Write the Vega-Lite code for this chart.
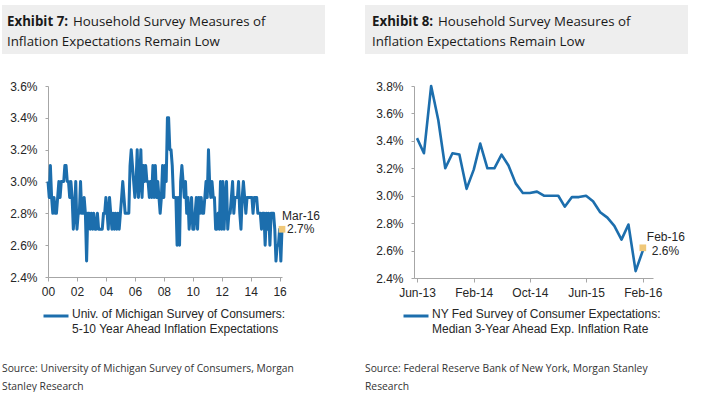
{
  "$schema": "https://vega.github.io/schema/vega-lite/v6.json",
  "background": "white",
  "padding": {"left": 2, "top": 5, "right": 0, "bottom": 0},
  "config": {
    "view": {"stroke": null},
    "axis": {"labelFont": "Liberation Sans", "labelFontSize": 12, "labelColor": "#262626", "domainColor": "#a6a6a6", "tickColor": "#a6a6a6", "grid": false, "labelOverlap": false},
    "text": {"font": "Liberation Sans", "fontSize": 12, "color": "#262626"}
  },
  "datasets": {
    "mich": [
      {"d":"2000/01/01","v":3.0},{"d":"2000/02/01","v":2.9},{"d":"2000/03/01","v":3.1},{"d":"2000/04/01","v":2.9},{"d":"2000/05/01","v":2.8},{"d":"2000/06/01","v":2.9},{"d":"2000/07/01","v":2.8},{"d":"2000/08/01","v":2.8},{"d":"2000/09/01","v":2.9},{"d":"2000/10/01","v":3.0},{"d":"2000/11/01","v":2.9},{"d":"2000/12/01","v":3.0},
      {"d":"2001/01/01","v":3.0},{"d":"2001/02/01","v":3.0},{"d":"2001/03/01","v":3.1},{"d":"2001/04/01","v":3.1},{"d":"2001/05/01","v":3.0},{"d":"2001/06/01","v":3.0},{"d":"2001/07/01","v":2.9},{"d":"2001/08/01","v":3.0},{"d":"2001/09/01","v":2.9},{"d":"2001/10/01","v":2.7},{"d":"2001/11/01","v":2.8},{"d":"2001/12/01","v":3.0},
      {"d":"2002/01/01","v":2.7},{"d":"2002/02/01","v":2.8},{"d":"2002/03/01","v":2.8},{"d":"2002/04/01","v":3.0},{"d":"2002/05/01","v":2.8},{"d":"2002/06/01","v":2.8},{"d":"2002/07/01","v":2.9},{"d":"2002/08/01","v":2.8},{"d":"2002/09/01","v":2.5},{"d":"2002/10/01","v":2.8},{"d":"2002/11/01","v":2.8},{"d":"2002/12/01","v":2.7},
      {"d":"2003/01/01","v":2.8},{"d":"2003/02/01","v":2.7},{"d":"2003/03/01","v":2.8},{"d":"2003/04/01","v":2.7},{"d":"2003/05/01","v":2.7},{"d":"2003/06/01","v":2.8},{"d":"2003/07/01","v":2.7},{"d":"2003/08/01","v":2.7},{"d":"2003/09/01","v":2.7},{"d":"2003/10/01","v":2.7},{"d":"2003/11/01","v":2.8},{"d":"2003/12/01","v":2.8},
      {"d":"2004/01/01","v":2.9},{"d":"2004/02/01","v":2.8},{"d":"2004/03/01","v":2.7},{"d":"2004/04/01","v":2.9},{"d":"2004/05/01","v":2.8},{"d":"2004/06/01","v":2.7},{"d":"2004/07/01","v":2.8},{"d":"2004/08/01","v":2.7},{"d":"2004/09/01","v":2.8},{"d":"2004/10/01","v":2.7},{"d":"2004/11/01","v":2.8},{"d":"2004/12/01","v":2.7},
      {"d":"2005/01/01","v":2.8},{"d":"2005/02/01","v":2.9},{"d":"2005/03/01","v":3.0},{"d":"2005/04/01","v":2.9},{"d":"2005/05/01","v":2.8},{"d":"2005/06/01","v":2.8},{"d":"2005/07/01","v":2.8},{"d":"2005/08/01","v":2.8},{"d":"2005/09/01","v":3.1},{"d":"2005/10/01","v":3.2},{"d":"2005/11/01","v":3.1},{"d":"2005/12/01","v":3.0},
      {"d":"2006/01/01","v":2.9},{"d":"2006/02/01","v":3.0},{"d":"2006/03/01","v":3.2},{"d":"2006/04/01","v":2.9},{"d":"2006/05/01","v":3.0},{"d":"2006/06/01","v":3.2},{"d":"2006/07/01","v":2.9},{"d":"2006/08/01","v":3.1},{"d":"2006/09/01","v":3.0},{"d":"2006/10/01","v":3.1},{"d":"2006/11/01","v":3.0},{"d":"2006/12/01","v":3.0},
      {"d":"2007/01/01","v":2.9},{"d":"2007/02/01","v":3.0},{"d":"2007/03/01","v":2.9},{"d":"2007/04/01","v":3.1},{"d":"2007/05/01","v":2.9},{"d":"2007/06/01","v":3.1},{"d":"2007/07/01","v":2.9},{"d":"2007/08/01","v":3.0},{"d":"2007/09/01","v":2.9},{"d":"2007/10/01","v":2.8},{"d":"2007/11/01","v":2.9},{"d":"2007/12/01","v":3.1},
      {"d":"2008/01/01","v":2.9},{"d":"2008/02/01","v":3.1},{"d":"2008/03/01","v":3.0},{"d":"2008/04/01","v":3.4},{"d":"2008/05/01","v":3.4},{"d":"2008/06/01","v":3.2},{"d":"2008/07/01","v":3.2},{"d":"2008/08/01","v":3.1},{"d":"2008/09/01","v":2.9},{"d":"2008/10/01","v":2.9},{"d":"2008/11/01","v":2.9},{"d":"2008/12/01","v":2.6},
      {"d":"2009/01/01","v":2.9},{"d":"2009/02/01","v":2.6},{"d":"2009/03/01","v":3.0},{"d":"2009/04/01","v":3.1},{"d":"2009/05/01","v":3.0},{"d":"2009/06/01","v":2.9},{"d":"2009/07/01","v":3.0},{"d":"2009/08/01","v":2.8},{"d":"2009/09/01","v":2.9},{"d":"2009/10/01","v":2.7},{"d":"2009/11/01","v":2.8},{"d":"2009/12/01","v":2.9},
      {"d":"2010/01/01","v":2.7},{"d":"2010/02/01","v":2.7},{"d":"2010/03/01","v":2.8},{"d":"2010/04/01","v":2.9},{"d":"2010/05/01","v":2.7},{"d":"2010/06/01","v":2.9},{"d":"2010/07/01","v":2.8},{"d":"2010/08/01","v":2.9},{"d":"2010/09/01","v":2.8},{"d":"2010/10/01","v":2.8},{"d":"2010/11/01","v":2.9},{"d":"2010/12/01","v":3.0},
      {"d":"2011/01/01","v":2.9},{"d":"2011/02/01","v":3.2},{"d":"2011/03/01","v":3.0},{"d":"2011/04/01","v":2.9},{"d":"2011/05/01","v":3.0},{"d":"2011/06/01","v":2.9},{"d":"2011/07/01","v":2.9},{"d":"2011/08/01","v":2.7},{"d":"2011/09/01","v":2.7},{"d":"2011/10/01","v":2.8},{"d":"2011/11/01","v":2.7},{"d":"2011/12/01","v":3.0},
      {"d":"2012/01/01","v":2.7},{"d":"2012/02/01","v":3.0},{"d":"2012/03/01","v":2.7},{"d":"2012/04/01","v":2.9},{"d":"2012/05/01","v":3.0},{"d":"2012/06/01","v":2.7},{"d":"2012/07/01","v":2.8},{"d":"2012/08/01","v":2.8},{"d":"2012/09/01","v":2.9},{"d":"2012/10/01","v":3.0},{"d":"2012/11/01","v":2.8},{"d":"2012/12/01","v":2.9},
      {"d":"2013/01/01","v":2.9},{"d":"2013/02/01","v":2.9},{"d":"2013/03/01","v":3.0},{"d":"2013/04/01","v":2.8},{"d":"2013/05/01","v":2.7},{"d":"2013/06/01","v":2.9},{"d":"2013/07/01","v":3.0},{"d":"2013/08/01","v":2.9},{"d":"2013/09/01","v":2.8},{"d":"2013/10/01","v":2.9},{"d":"2013/11/01","v":2.9},{"d":"2013/12/01","v":2.9},
      {"d":"2014/01/01","v":2.9},{"d":"2014/02/01","v":2.9},{"d":"2014/03/01","v":2.8},{"d":"2014/04/01","v":2.9},{"d":"2014/05/01","v":2.9},{"d":"2014/06/01","v":2.9},{"d":"2014/07/01","v":2.8},{"d":"2014/08/01","v":2.8},{"d":"2014/09/01","v":2.8},{"d":"2014/10/01","v":2.7},{"d":"2014/11/01","v":2.8},{"d":"2014/12/01","v":2.8},
      {"d":"2015/01/01","v":2.6},{"d":"2015/02/01","v":2.8},{"d":"2015/03/01","v":2.7},{"d":"2015/04/01","v":2.8},{"d":"2015/05/01","v":2.6},{"d":"2015/06/01","v":2.8},{"d":"2015/07/01","v":2.8},{"d":"2015/08/01","v":2.8},{"d":"2015/09/01","v":2.7},{"d":"2015/10/01","v":2.5},{"d":"2015/11/01","v":2.6},{"d":"2015/12/01","v":2.6},
      {"d":"2016/01/01","v":2.7},{"d":"2016/02/01","v":2.5},{"d":"2016/03/01","v":2.7}
    ],
    "nyfed": [
      {"d":"2013/06/01","v":3.42},{"d":"2013/07/01","v":3.31},{"d":"2013/08/01","v":3.80},{"d":"2013/09/01","v":3.55},{"d":"2013/10/01","v":3.20},{"d":"2013/11/01","v":3.31},{"d":"2013/12/01","v":3.30},
      {"d":"2014/01/01","v":3.05},{"d":"2014/02/01","v":3.19},{"d":"2014/03/01","v":3.38},{"d":"2014/04/01","v":3.20},{"d":"2014/05/01","v":3.20},{"d":"2014/06/01","v":3.30},{"d":"2014/07/01","v":3.22},{"d":"2014/08/01","v":3.09},{"d":"2014/09/01","v":3.02},{"d":"2014/10/01","v":3.02},{"d":"2014/11/01","v":3.03},{"d":"2014/12/01","v":3.00},
      {"d":"2015/01/01","v":3.00},{"d":"2015/02/01","v":3.00},{"d":"2015/03/01","v":2.92},{"d":"2015/04/01","v":2.99},{"d":"2015/05/01","v":2.99},{"d":"2015/06/01","v":3.00},{"d":"2015/07/01","v":2.96},{"d":"2015/08/01","v":2.88},{"d":"2015/09/01","v":2.84},{"d":"2015/10/01","v":2.78},{"d":"2015/11/01","v":2.68},{"d":"2015/12/01","v":2.79},
      {"d":"2016/01/01","v":2.45},{"d":"2016/02/01","v":2.60}
    ],
    "michLast": [{"d":"2016/03/01","v":2.7,"m":"Mar-16","p":"2.7%"}],
    "nyLast": [{"d":"2016/02/01","v":2.62,"m":"Feb-16","p":"2.6%"}]
  },
  "spacing": 40,
  "resolve": {"scale": {"color": "independent"}, "legend": {"color": "independent"}},
  "hconcat": [
    {
      "vconcat": [
        {
          "width": 323, "height": 49,
          "view": {"fill": "#eeeeee", "stroke": null},
          "data": {"values": [{"ex": "Exhibit 7:", "l1": "Household Survey Measures of", "l2": "Inflation Expectations Remain Low"}]},
          "layer": [
            {"mark": {"type": "text", "font": "Open Sans", "fontSize": 13.3, "fontWeight": "bold", "align": "left", "baseline": "middle", "color": "#1a1a1a"}, "encoding": {"text": {"field": "ex"}, "x": {"value": 5}, "y": {"value": 17}}},
            {"mark": {"type": "text", "font": "Open Sans", "fontSize": 13.3, "align": "left", "baseline": "middle", "color": "#1a1a1a"}, "encoding": {"text": {"field": "l1"}, "x": {"value": 71}, "y": {"value": 17}}},
            {"mark": {"type": "text", "font": "Open Sans", "fontSize": 13.3, "align": "left", "baseline": "middle", "color": "#1a1a1a"}, "encoding": {"text": {"field": "l2"}, "x": {"value": 5}, "y": {"value": 37}}}
          ]
        },
        {
          "width": 323, "height": 191,
          "layer": [
            {
              "data": {"name": "mich"},
              "mark": {"type": "line", "strokeWidth": 3, "strokeJoin": "round"},
              "encoding": {
                "x": {"field": "d", "type": "temporal", "scale": {"domain": [{"year": 2000, "month": 1, "date": 1}, {"year": 2016, "month": 3, "date": 1}], "range": [46, 280]}, "axis": {"title": null, "format": "%y", "tickCount": {"interval": "year", "step": 2}, "tickSize": 4, "labelPadding": 5, "labelFlush": false, "labelOverlap": false}},
                "y": {"field": "v", "type": "quantitative", "scale": {"domain": [2.4, 3.6], "nice": false, "zero": false}, "axis": {"title": null, "offset": -46, "values": [2.4, 2.6, 2.8, 3.0, 3.2, 3.4, 3.6], "tickCount": 20, "labelExpr": "format(datum.value, '.1f') + '%'", "tickSize": 3, "labelPadding": 8, "labelOverlap": false}},
                "color": {"datum": "mich", "type": "nominal", "scale": {"range": ["#1C6EAD"]}, "legend": {"orient": "none", "legendX": 40, "legendY": 297, "title": null, "symbolType": "stroke", "symbolSize": 625, "symbolStrokeWidth": 3, "labelFont": "Liberation Sans", "labelFontSize": 12, "labelColor": "#262626", "labelOffset": 2, "labelLimit": 500, "labelBaseline": "top", "labelExpr": "['Univ. of Michigan Survey of Consumers:', '5-10 Year Ahead Inflation Expectations']", "encode": {"labels": {"update": {"dy": {"value": -7}, "lineHeight": {"value": 14.5}}}}}}
              }
            },
            {
              "data": {"name": "michLast"},
              "mark": {"type": "point", "shape": "square", "filled": true, "size": 45, "color": "#F0C878", "opacity": 1},
              "encoding": {"x": {"field": "d", "type": "temporal"}, "y": {"field": "v", "type": "quantitative"}}
            },
            {
              "data": {"name": "michLast"},
              "mark": {"type": "text", "align": "left", "baseline": "middle", "dx": 0, "dy": -13},
              "encoding": {"x": {"field": "d", "type": "temporal"}, "y": {"field": "v", "type": "quantitative"}, "text": {"field": "m"}}
            },
            {
              "data": {"name": "michLast"},
              "mark": {"type": "text", "align": "left", "baseline": "middle", "dx": 5, "dy": 0},
              "encoding": {"x": {"field": "d", "type": "temporal"}, "y": {"field": "v", "type": "quantitative"}, "text": {"field": "p"}}
            }
          ]
        }
      ],
      "spacing": 26,
      "title": {"text": ["Source: University of Michigan Survey of Consumers, Morgan", "Stanley Research"], "orient": "bottom", "anchor": "start", "frame": "bounds", "font": "Open Sans", "fontSize": 10.3, "fontWeight": "normal", "color": "#333333", "lineHeight": 17.5, "offset": 29, "baseline": "top"}
    },
    {
      "vconcat": [
        {
          "width": 323, "height": 49,
          "view": {"fill": "#eeeeee", "stroke": null},
          "data": {"values": [{"ex": "Exhibit 8:", "l1": "Household Survey Measures of", "l2": "Inflation Expectations Remain Low"}]},
          "layer": [
            {"mark": {"type": "text", "font": "Open Sans", "fontSize": 13.3, "fontWeight": "bold", "align": "left", "baseline": "middle", "color": "#1a1a1a"}, "encoding": {"text": {"field": "ex"}, "x": {"value": 7}, "y": {"value": 17}}},
            {"mark": {"type": "text", "font": "Open Sans", "fontSize": 13.3, "align": "left", "baseline": "middle", "color": "#1a1a1a"}, "encoding": {"text": {"field": "l1"}, "x": {"value": 73}, "y": {"value": 17}}},
            {"mark": {"type": "text", "font": "Open Sans", "fontSize": 13.3, "align": "left", "baseline": "middle", "color": "#1a1a1a"}, "encoding": {"text": {"field": "l2"}, "x": {"value": 7}, "y": {"value": 37}}}
          ]
        },
        {
          "width": 323, "height": 192,
          "layer": [
            {
              "data": {"name": "nyfed"},
              "mark": {"type": "line", "strokeWidth": 2.6, "strokeJoin": "round"},
              "encoding": {
                "x": {"field": "d", "type": "temporal", "scale": {"domain": [{"year": 2013, "month": 5, "date": 19}, {"year": 2016, "month": 3, "date": 16}], "range": [49, 288]}, "axis": {"title": null, "format": "%b-%y", "values": [{"year": 2013, "month": 6, "date": 1}, {"year": 2014, "month": 2, "date": 1}, {"year": 2014, "month": 10, "date": 1}, {"year": 2015, "month": 6, "date": 1}, {"year": 2016, "month": 2, "date": 1}], "tickCount": 20, "tickSize": 4, "labelPadding": 5, "labelFlush": false, "labelOverlap": false}},
                "y": {"field": "v", "type": "quantitative", "scale": {"domain": [2.4, 3.8], "nice": false, "zero": false}, "axis": {"title": null, "offset": -49, "values": [2.4, 2.6, 2.8, 3.0, 3.2, 3.4, 3.6, 3.8], "tickCount": 20, "labelExpr": "format(datum.value, '.1f') + '%'", "tickSize": 3, "labelPadding": 8, "labelOverlap": false}},
                "color": {"datum": "ny", "type": "nominal", "scale": {"range": ["#1C6EAD"]}, "legend": {"orient": "none", "legendX": 37, "legendY": 297, "title": null, "symbolType": "stroke", "symbolSize": 625, "symbolStrokeWidth": 3, "labelFont": "Liberation Sans", "labelFontSize": 12, "labelColor": "#262626", "labelOffset": 2, "labelLimit": 500, "labelBaseline": "top", "labelExpr": "['NY Fed Survey of Consumer Expectations:', 'Median 3-Year Ahead Exp. Inflation Rate']", "encode": {"labels": {"update": {"dy": {"value": -7}, "lineHeight": {"value": 14.5}}}}}}
              }
            },
            {
              "data": {"name": "nyLast"},
              "mark": {"type": "point", "shape": "square", "filled": true, "size": 45, "color": "#F0C878", "opacity": 1},
              "encoding": {"x": {"field": "d", "type": "temporal"}, "y": {"field": "v", "type": "quantitative"}}
            },
            {
              "data": {"name": "nyLast"},
              "mark": {"type": "text", "align": "left", "baseline": "middle", "dx": 4, "dy": -10.5},
              "encoding": {"x": {"field": "d", "type": "temporal"}, "y": {"field": "v", "type": "quantitative"}, "text": {"field": "m"}}
            },
            {
              "data": {"name": "nyLast"},
              "mark": {"type": "text", "align": "left", "baseline": "middle", "dx": 9, "dy": 3},
              "encoding": {"x": {"field": "d", "type": "temporal"}, "y": {"field": "v", "type": "quantitative"}, "text": {"field": "p"}}
            }
          ]
        }
      ],
      "spacing": 26,
      "title": {"text": ["Source: Federal Reserve Bank of New York, Morgan Stanley", "Research"], "orient": "bottom", "anchor": "start", "frame": "bounds", "font": "Open Sans", "fontSize": 10.3, "fontWeight": "normal", "color": "#333333", "lineHeight": 17.5, "offset": 29, "baseline": "top"}
    }
  ]
}
